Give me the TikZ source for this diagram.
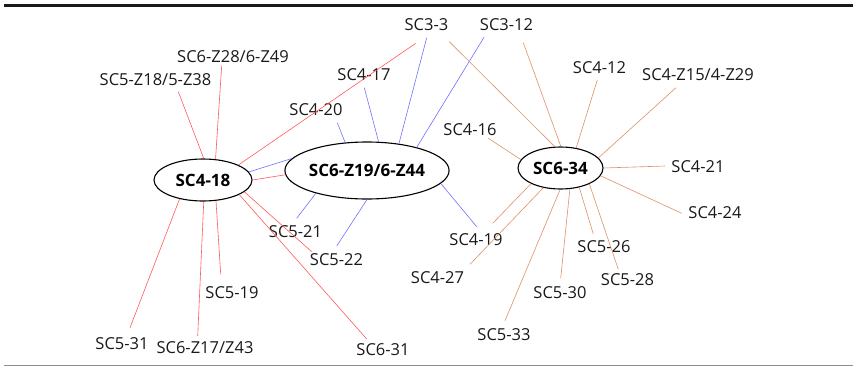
\documentclass[tikz,border=0pt]{standalone}
\usepackage{fontspec}
\setmainfont{Open Sans}
\usetikzlibrary{shapes.geometric}
\definecolor{cred}{HTML}{FF5A5A}
\definecolor{cblue}{HTML}{7070FF}
\definecolor{corange}{HTML}{DE9068}
\tikzset{
  hub/.style={draw=black, line width=1.1pt, ellipse, inner sep=0pt, fill=white, font=\fontsize{17}{20}\selectfont\bfseries},
  lbl/.style={inner sep=0pt, font=\fontsize{16.5}{19}\selectfont, text=black!90},
  redge/.style={draw=cred, line width=0.6pt},
  bedge/.style={draw=cblue, line width=0.6pt},
  oedge/.style={draw=corange, line width=0.6pt},
}
\begin{document}
\begin{tikzpicture}[x=1pt,y=-1pt]
\useasboundingbox (0,0) rectangle (853,367);
\draw[line width=2.5pt, black!90] (4,5.5) -- (853,5.5);
\draw[line width=1pt, black!45] (4,365.7) -- (853,365.7);

% hubs
\node[hub, minimum width=98pt, minimum height=42pt] (A) at (203,180) {SC4-18};
\node[hub, minimum width=132pt, minimum height=57pt] (B) at (367,170.5) {SC6-Z19/6-Z44};
\node[hub, minimum width=85pt, minimum height=42pt] (C) at (560.5,168) {SC6-34};

% labels
\node[lbl] (l33) at (426.5,25) {SC3-3};
\node[lbl] (l312) at (506.5,25) {SC3-12};
\node[lbl] (lz28) at (233,57) {SC6-Z28/6-Z49};
\node[lbl] (lz18) at (155.5,80) {SC5-Z18/5-Z38};
\node[lbl] (l417) at (364,75) {SC4-17};
\node[lbl] (l420) at (316,110) {SC4-20};
\node[lbl] (l412) at (599.5,68) {SC4-12};
\node[lbl] (lz15) at (698,75) {SC4-Z15/4-Z29};
\node[lbl] (l416) at (470,130) {SC4-16};
\node[lbl] (l421) at (698,167) {SC4-21};
\node[lbl] (l424) at (715,213) {SC4-24};
\node[lbl] (l419) at (476,240) {SC4-19};
\node[lbl] (l427) at (437.5,278) {SC4-27};
\node[lbl] (l526) at (604,247) {SC5-26};
\node[lbl] (l528) at (627.5,280) {SC5-28};
\node[lbl] (l530) at (560,293) {SC5-30};
\node[lbl] (l533) at (504,335) {SC5-33};
\node[lbl] (l521) at (295.5,232) {SC5-21};
\node[lbl] (l522) at (336.5,260) {SC5-22};
\node[lbl] (l519) at (232,293) {SC5-19};
\node[lbl] (l531) at (122,344) {SC5-31};
\node[lbl] (lz17) at (205,348) {SC6-Z17/Z43};
\node[lbl] (l631) at (383,350) {SC6-31};

% edge end coordinates near labels
\coordinate (r1) at (178.3,91.7);
\coordinate (r2) at (221.7,65.7);
\coordinate (r3) at (415.7,43.3);
\coordinate (r4) at (311.7,251.7);
\coordinate (r5) at (366.7,339);
\coordinate (r6) at (220.7,274.3);
\coordinate (r7) at (197.7,336);
\coordinate (r8) at (130,327.7);
\coordinate (b1) at (337.3,122.7);
\coordinate (b2) at (364.3,87.7);
\coordinate (b3) at (426.7,37.7);
\coordinate (b4) at (484,37.3);
\coordinate (b5) at (476.7,226.7);
\coordinate (b6) at (336.7,246);
\coordinate (b7) at (296.7,218.3);
\coordinate (o1) at (449.3,41.7);
\coordinate (o2) at (523.3,42.7);
\coordinate (o3) at (597.3,80);
\coordinate (o4) at (676,87.7);
\coordinate (o5) at (488.3,138.3);
\coordinate (o6) at (665,166);
\coordinate (o7) at (681.7,213.3);
\coordinate (o8) at (492.7,223.3);
\coordinate (o9) at (470,264.3);
\coordinate (o10) at (505,320.7);
\coordinate (o11) at (560.7,278.3);
\coordinate (o12) at (593.3,234);
\coordinate (o13) at (618.3,269.3);

% red edges (SC4-18)
\draw[redge] (A.88) -- (r1);
\draw[redge] (A.59) -- (r2);
\draw[redge] (A.23) -- (r3);
\draw[redge] (A.0) -- (B.183);
\draw[redge] (A.-16) -- (r4);
\draw[redge] (A.-22) -- (r5);
\draw[redge] (A.-58) -- (r6);
\draw[redge] (A.-88) -- (r7);
\draw[redge] (A.-141) -- (r8);

% blue edges (SC6-Z19/6-Z44)
\draw[bedge] (A.10) -- (B.171.5);
\draw[bedge] (B.128.6) -- (b1);
\draw[bedge] (B.68) -- (b2);
\draw[bedge] (B.40.3) -- (b3);
\draw[bedge] (B.25.6) -- (b4);
\draw[bedge] (B.-10.5) -- (b5);
\draw[bedge] (B.-90.5) -- (b6);
\draw[bedge] (B.-156.7) -- (b7);

% orange edges (SC6-34)
\draw[oedge] (C.105.6) -- (o1);
\draw[oedge] (C.89.5) -- (o2);
\draw[oedge] (C.52.7) -- (o3);
\draw[oedge] (C.15.5) -- (o4);
\draw[oedge] (C.168.2) -- (o5);
\draw[oedge] (C.0.4) -- (o6);
\draw[oedge] (C.-11.7) -- (o7);
\draw[oedge] (C.-152.3) -- (o8);
\draw[oedge] (C.-131.4) -- (o9);
\draw[oedge] (C.-91.3) -- (o10);
\draw[oedge] (C.-66.6) -- (o11);
\draw[oedge] (C.-46.5) -- (o12);
\draw[oedge] (C.-29.4) -- (o13);
\end{tikzpicture}
\end{document}
